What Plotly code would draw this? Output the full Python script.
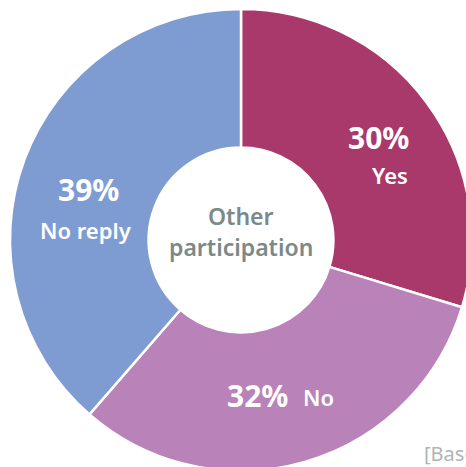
import plotly.graph_objects as go

categories = ["Yes", "No", "No reply"]
values = [30, 32, 39]
colors = ["#A8396A", "#B982B8", "#7F9CD2"]
center_title = ["Other", "participation"]
footnote = "[Base"

W, H = 480, 480

fig = go.Figure()
fig.add_trace(go.Pie(
    labels=categories,
    values=values,
    marker=dict(colors=colors, line=dict(color="white", width=2.5)),
    hole=0.4,
    sort=False,
    direction="clockwise",
    rotation=0,
    textinfo="none",
    hoverinfo="label+percent",
    showlegend=False,
    domain=dict(x=[10 / W, 472 / W], y=[(H - 471) / H, (H - 9) / H]),
))

PCT = dict(family="Noto Sans", size=30, color="white", weight="bold")
LAB = dict(family="Noto Sans", size=22, color="white", weight=600)
CEN = dict(family="Noto Sans", size=23, color="#7B8A88", weight=600)

def px(x, y):
    return x / W, 1 - y / H

def ann(x, y, text, font, xanchor="center"):
    ax, ay = px(x, y)
    fig.add_annotation(x=ax, y=ay, xref="paper", yref="paper", showarrow=False,
                       text=text, font=font, xanchor=xanchor, yanchor="middle")

# label anchor positions in pixels (text positions only)
pct_pos = {"Yes": (378, 137), "No": (257, 395), "No reply": (88, 190)}
lab_pos = {"Yes": (390, 175), "No": (318, 397), "No reply": (86, 230)}

for cat, val in zip(categories, values):
    ann(*pct_pos[cat], f"{val}%", PCT)
    ann(*lab_pos[cat], cat, LAB)

ann(241, 216, center_title[0], CEN)
ann(241, 247, center_title[1], CEN)
ann(422, 453, footnote, dict(family="Noto Sans", size=20, color="#AEB6B4"), xanchor="left")

fig.update_layout(
    width=W, height=H,
    margin=dict(l=0, r=0, t=0, b=0),
    paper_bgcolor="white",
    plot_bgcolor="white",
)

fig.write_html("out.html", config={"displayModeBar": False},
               post_script="document.body.style.margin='0';")
